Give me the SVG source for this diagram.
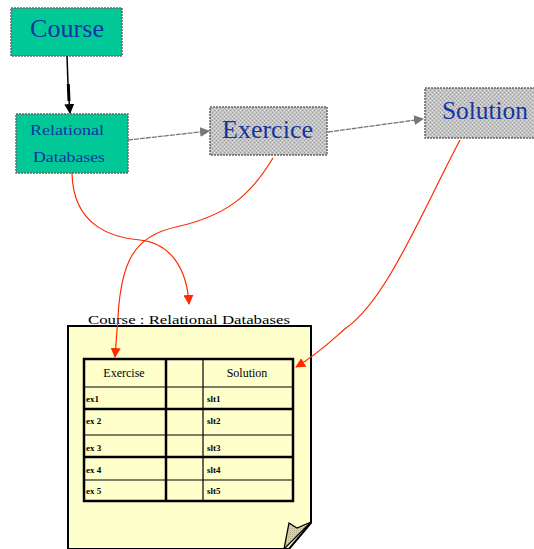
<svg xmlns="http://www.w3.org/2000/svg" width="534" height="549" viewBox="0 0 534 549">
<defs>
<pattern id="halftone" width="4" height="4" patternUnits="userSpaceOnUse">
<rect width="4" height="4" fill="#c4c4c4"/>
<rect x="0" y="0" width="1" height="1" fill="#999"/>
<rect x="2" y="2" width="1" height="1" fill="#999"/>
<rect x="2" y="0" width="1" height="1" fill="#e0e0e0"/>
<rect x="0" y="2" width="1" height="1" fill="#e0e0e0"/>
</pattern>
<pattern id="curlpat" width="2" height="2" patternUnits="userSpaceOnUse">
<rect width="2" height="2" fill="#d6d0a8"/>
<rect width="1" height="1" fill="#b8b290"/>
</pattern>
<marker id="ahBlack" viewBox="0 0 10 10" refX="9" refY="5" markerWidth="10" markerHeight="10" markerUnits="userSpaceOnUse" orient="auto">
<path d="M0,0 L10,5 L0,10 Z" fill="#000"/>
</marker>
<marker id="ahGray" viewBox="0 0 10 10" refX="9" refY="5" markerWidth="10" markerHeight="10" markerUnits="userSpaceOnUse" orient="auto">
<path d="M0,0 L10,5 L0,10 Z" fill="#777"/>
</marker>
<marker id="ahRed" viewBox="0 0 10 10" refX="9" refY="5" markerWidth="10" markerHeight="10" markerUnits="userSpaceOnUse" orient="auto">
<path d="M0,0 L10,5 L0,10 Z" fill="#ff2a00"/>
</marker>
<style>
.green{fill:#00c896;stroke:#666;stroke-width:1.5;stroke-dasharray:2 1}
.gray{fill:url(#halftone);stroke:#666;stroke-width:1.5;stroke-dasharray:2 1}
.lbl{font-family:"Liberation Serif","Times New Roman",serif;fill:#1434a4}
.doc{font-family:"Liberation Serif","Times New Roman",serif;fill:#000}
.cell{font-family:"Liberation Serif","Times New Roman",serif;font-weight:bold;font-size:9px;fill:#000}
.red{fill:none;stroke:#ff2a00;stroke-width:1.2;marker-end:url(#ahRed)}
.grayline{fill:none;stroke:#777;stroke-width:1.3;stroke-dasharray:5 1;marker-end:url(#ahGray)}
.thick{stroke:#000;stroke-width:2.5}
.thin{stroke:#000;stroke-width:1.2}
</style>
</defs>
<rect width="534" height="549" fill="#fff"/>

<g id="document">
<path d="M68,326 L311,326 L311,523 L289,549 L68,549 Z" fill="#ffffcc" stroke="#000" stroke-width="2"/>
<polygon points="289,523 297,528 311,522 284,549" fill="url(#curlpat)" stroke="#000" stroke-width="1.3"/>
<text class="doc" x="88" y="324" font-size="13" textLength="202" lengthAdjust="spacingAndGlyphs">Course : Relational Databases</text>
</g>

<g id="table">
<rect x="84" y="359" width="209" height="142" fill="#ffffcc" stroke="#000" stroke-width="2.5"/>
<line class="thick" x1="166" y1="359" x2="166" y2="501"/>
<line class="thin" x1="203" y1="359" x2="203" y2="501"/>
<line class="thin" x1="84" y1="387" x2="293" y2="387"/>
<line class="thick" x1="84" y1="409" x2="293" y2="409"/>
<line class="thin" x1="84" y1="435" x2="293" y2="435"/>
<line class="thick" x1="84" y1="457" x2="293" y2="457"/>
<line class="thin" x1="84" y1="480" x2="293" y2="480"/>
<text class="doc" x="124" y="377" font-size="12" text-anchor="middle">Exercise</text>
<text class="doc" x="247" y="377" font-size="12" text-anchor="middle">Solution</text>
<text class="cell" x="86" y="402">ex1</text>
<text class="cell" x="207" y="402">slt1</text>
<text class="cell" x="86" y="424">ex 2</text>
<text class="cell" x="207" y="424">slt2</text>
<text class="cell" x="86" y="451">ex 3</text>
<text class="cell" x="207" y="451">slt3</text>
<text class="cell" x="86" y="473">ex 4</text>
<text class="cell" x="207" y="473">slt4</text>
<text class="cell" x="86" y="494">ex 5</text>
<text class="cell" x="207" y="494">slt5</text>
</g>

<g id="course">
<rect class="green" x="11" y="8" width="111" height="48"/>
<text class="lbl" x="67" y="37" font-size="25" text-anchor="middle" textLength="74" lengthAdjust="spacingAndGlyphs">Course</text>
</g>

<g id="relational-databases">
<rect class="green" x="16" y="114" width="112" height="59"/>
<text class="lbl" x="30" y="135" font-size="15" textLength="74" lengthAdjust="spacingAndGlyphs">Relational</text>
<text class="lbl" x="33" y="162" font-size="15" textLength="72" lengthAdjust="spacingAndGlyphs">Databases</text>
</g>

<g id="exercice">
<rect class="gray" x="210" y="107" width="117" height="48"/>
<text class="lbl" x="222" y="138" font-size="25" textLength="91" lengthAdjust="spacingAndGlyphs">Exercice</text>
</g>

<g id="solution">
<rect class="gray" x="425" y="88" width="112" height="50"/>
<text class="lbl" x="442" y="119" font-size="25" textLength="86" lengthAdjust="spacingAndGlyphs">Solution</text>
</g>

<g id="connectors">
<path d="M67,56 L68,84 L69,100 L70,113" fill="none" stroke="#000" stroke-width="1.5" marker-end="url(#ahBlack)"/>
<path d="M68.3,84 L69,101" fill="none" stroke="#000" stroke-width="3"/>
<path d="M128,140 L209,131" class="grayline"/>
<path d="M328,132 L423,119" class="grayline"/>
<path d="M72,173 C 73,228 115,238 140,240 C 170,243 187,268 189,304" class="red"/>
<path d="M273,158 C 250,196 226,216 176,227 C 134,236 121,262 118,317 L115,357" class="red"/>
<path d="M460,140 C 420,216 386,300 346,328 C 332,340 318,354 296,367" class="red"/>
</g>
</svg>
